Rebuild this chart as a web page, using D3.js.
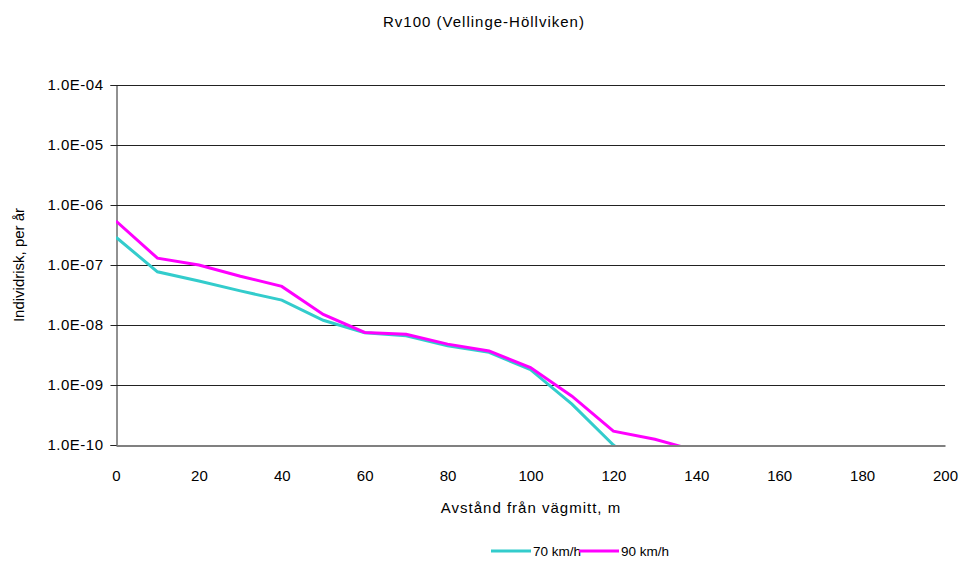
<!DOCTYPE html>
<html><head><meta charset="utf-8">
<script src="https://cdn.jsdelivr.net/npm/d3@7"></script>
<style>body{margin:0;background:#fff}svg{display:block}text{font-family:"Liberation Sans",Arial,sans-serif}</style>
</head><body>
<script>
const distances = [0,10,20,30,40,50,60,70,80,90,100,110,120,130,140];
const risk70 = [2.9e-7,7.7e-8,5.4e-8,3.7e-8,2.6e-8,1.2e-8,7.4e-9,6.6e-9,4.5e-9,3.5e-9,1.8e-9,4.8e-10,1.0e-10,3e-11,1e-11];
const risk90 = [5.4e-7,1.3e-7,1.0e-7,6.5e-8,4.4e-8,1.5e-8,7.5e-9,7.0e-9,4.8e-9,3.7e-9,1.95e-9,6.5e-10,1.7e-10,1.25e-10,8e-11];
const seriesNames = ["70 km/h","90 km/h"];
const seriesColors = ["#33CCCC","#FF00FF"];
const xTicks = [0,20,40,60,80,100,120,140,160,180,200];
const yTicks = [1e-4,1e-5,1e-6,1e-7,1e-8,1e-9,1e-10];
const title = "Rv100 (Vellinge-Höllviken)";
const xTitle = "Avstånd från vägmitt, m";
const yTitle = "Individrisk, per år";

const W=968,H=574;
const L=116,R=945,T=85,B=445;
const svg=d3.select("body").append("svg").attr("width",W).attr("height",H);
const x=d3.scaleLinear().domain([0,200]).range([L,R]);
const y=d3.scaleLog().domain([1e-10,1e-4]).range([B,T]);

// gridlines
svg.append("g").selectAll("line").data(yTicks.slice(0,-1)).join("line")
  .attr("x1",L).attr("x2",R).attr("y1",d=>Math.round(y(d))+0.5).attr("y2",d=>Math.round(y(d))+0.5)
  .attr("stroke","#222").attr("stroke-width",1);

// y axis
const yAxis=d3.axisLeft(y).tickValues(yTicks).tickSize(6).tickFormat(d=>{
  const e=Math.round(Math.log10(d));return "1.0E-"+String(-e).padStart(2,"0");});
const gy=svg.append("g").attr("transform",`translate(${L+0.5},0)`).call(yAxis);
gy.select(".domain").attr("stroke","#222");
gy.selectAll(".tick line").attr("stroke","#222");
gy.selectAll(".tick text").attr("font-size",15).attr("letter-spacing",0.5).attr("fill","#000").attr("x",-13);

// x axis
const xAxis=d3.axisBottom(x).tickValues(xTicks).tickSize(0).tickPadding(19);
const gx=svg.append("g").attr("transform",`translate(0,${B+0.5})`).call(xAxis);
gx.select(".domain").attr("stroke","#808080").attr("stroke-width",2);
gx.selectAll(".tick text").attr("font-size",15).attr("fill","#000").attr("dy",0).attr("y",35);

// clip
svg.append("clipPath").attr("id","clip").append("rect").attr("x",L).attr("y",T).attr("width",R-L).attr("height",B-T);

const line=d3.line().x(d=>x(d[0])).y(d=>y(d[1]));
[risk70,risk90].forEach((s,i)=>{
  svg.append("path").attr("clip-path","url(#clip)")
    .datum(distances.map((d,j)=>[d,s[j]]))
    .attr("d",line).attr("fill","none").attr("stroke",seriesColors[i]).attr("stroke-width",3)
    .attr("stroke-linejoin","miter");
});

// titles
svg.append("text").attr("x",484).attr("y",27).attr("text-anchor","middle").attr("font-size",15).attr("letter-spacing",1).text(title);
svg.append("text").attr("x",531).attr("y",513).attr("text-anchor","middle").attr("font-size",15).attr("letter-spacing",1).text(xTitle);
svg.append("text").attr("transform","translate(24,265) rotate(-90)").attr("text-anchor","middle").attr("font-size",15).text(yTitle);

// legend
const leg=[{x:491},{x:579}];
seriesNames.forEach((n,i)=>{
  const lx=leg[i].x;
  svg.append("line").attr("x1",lx).attr("x2",lx+40).attr("y1",551).attr("y2",551).attr("stroke",seriesColors[i]).attr("stroke-width",3);
  svg.append("text").attr("x",lx+42).attr("y",556).attr("font-size",13.5).text(n);
});
</script>
</body></html>
